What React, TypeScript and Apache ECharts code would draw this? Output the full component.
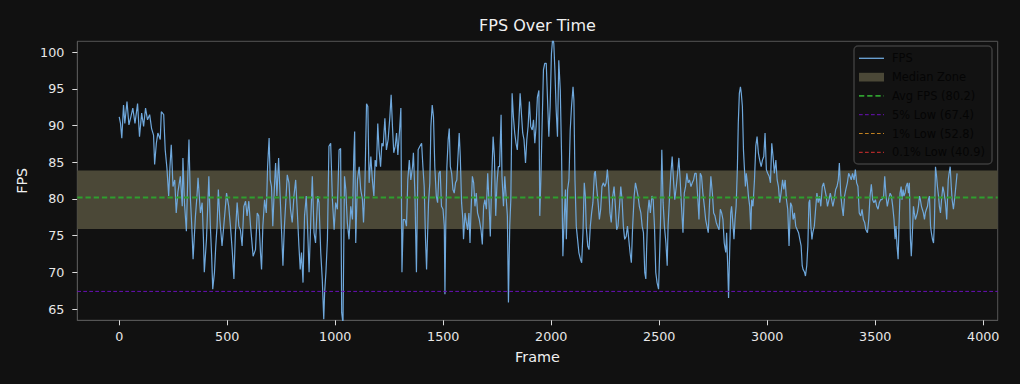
import React, { useEffect, useRef } from "react";
import * as echarts from "echarts";

// ---- FPS samples, [frame, fps] ----
const FPS_SEG_A: [number, number][] = [
  [0,91.2],[6,90.3],[12,88.3],[20,92.8],[26,90.3],[36,93.3],[45,90.1],[54,91.2],[63,92.4],[73,90.3],
  [85,93.0],[94,88.5],[104,91.7],[113,89.9],[122,92.4],[131,90.8],[141,91.5],[150,89.6],[159,88.7],[164,84.7],
  [172,87.6],[179,89.0],[190,88.1],[195,91.9],[206,91.5],[213,86.7],[221,84.2],[229,80.4],[235,84.4],[241,87.4],
  [249,81.7],[257,82.6],[264,78.1],[272,81.0],[283,83.1],[292,79.0],[295,85.6],[302,79.5],[311,75.6],[317,82.6],
  [323,88.1],[329,80.4],[336,76.3],[342,71.8],[353,77.7],[360,80.4],[365,82.9],[376,78.1],[384,79.5],[390,74.5],
  [394,70.0],[404,74.5],[415,83.1],[422,76.3],[428,72.2],[433,67.7],[441,70.0],[447,73.6],[453,76.3],[459,81.3],
  [466,77.2],[476,73.6],[484,76.3],[497,80.8],[507,79.0],[515,76.3],[523,73.1],[531,69.1],[538,75.4],[546,79.5],
  [554,76.3],[561,75.8],[569,73.6],[577,79.0],[585,79.7],[592,77.7],[600,79.7],[608,76.3],[620,72.2],
];
const FPS_SEG_B: [number, number][] = [
  [631,73.1],[639,78.1],[646,77.7],[654,72.7],[659,70.4],[665,76.3],[673,79.9],[681,78.1],[687,84.4],[694,88.3],
  [699,82.6],[705,81.7],[711,76.3],[718,81.3],[724,84.9],[730,80.4],[738,85.6],[745,80.4],[752,75.4],[758,70.9],
  [764,75.8],[770,79.0],[778,83.3],[786,82.2],[793,78.6],[801,76.8],[809,80.4],[817,82.6],[824,78.6],[832,73.6],
  [838,70.4],[844,72.7],[851,68.6],[858,77.7],[866,80.4],[872,76.3],[879,70.0],[886,76.3],[894,83.1],[902,75.4],
  [909,74.0],[919,80.4],[925,79.5],[933,72.7],[940,69.1],[947,63.6],[951,67.3],[957,70.0],[964,74.5],[971,87.2],
  [979,87.6],[987,79.9],[995,75.8],[1002,79.5],[1010,78.6],[1018,86.7],[1025,86.9],[1030,64.5],[1036,63.0],[1043,83.1],
  [1049,81.3],[1056,76.8],[1064,74.5],[1072,79.0],[1080,77.2],[1086,85.8],[1090,89.2],[1095,74.0],[1103,82.6],[1111,84.4],
  [1118,81.3],[1126,79.9],[1131,76.8],[1137,81.3],[1145,93.0],[1151,92.6],[1157,82.2],[1165,85.8],[1172,82.6],[1179,80.4],
  [1185,85.3],[1191,84.4],[1197,90.3],[1203,86.7],[1210,84.4],[1216,87.6],[1222,87.2],[1230,91.0],[1237,86.7],[1245,88.1],
  [1253,91.2],[1259,94.2],[1265,89.9],[1271,86.3],[1278,87.2],[1284,89.0],[1290,86.0],[1298,89.4],[1304,92.4],[1309,70.0],
  [1315,77.2],[1323,77.2],[1330,76.3],[1336,82.6],[1343,85.3],[1350,82.6],
];
const FPS_SEG_C: [number, number][] = [
  [1358,84.4],[1362,86.3],[1369,80.8],[1376,70.0],[1384,86.7],[1392,87.2],[1400,87.6],[1406,84.4],[1412,81.7],[1418,74.5],
  [1423,70.4],[1427,74.5],[1432,79.5],[1438,82.2],[1443,89.9],[1449,92.8],[1455,91.2],[1461,84.4],[1468,80.4],[1474,79.5],
  [1480,83.5],[1486,83.8],[1492,79.0],[1499,78.6],[1505,76.3],[1508,67.0],[1512,76.8],[1517,84.4],[1523,88.1],[1528,89.6],
  [1533,84.4],[1539,83.5],[1545,81.3],[1551,80.8],[1557,82.2],[1563,82.6],[1570,86.7],[1574,89.0],[1579,85.8],[1585,79.5],
  [1591,77.2],[1594,74.5],[1601,78.1],[1607,76.8],[1613,75.8],[1619,78.1],[1624,74.0],[1628,77.7],[1635,83.1],[1641,82.2],
  [1647,79.0],[1653,80.8],[1659,78.1],[1667,77.2],[1675,75.8],[1681,73.8],[1687,79.0],[1693,79.9],[1700,78.6],[1706,83.5],
  [1712,79.5],[1718,74.9],[1724,82.2],[1731,88.5],[1737,85.8],[1743,77.7],[1749,82.2],[1755,84.4],[1761,84.4],[1768,91.5],
  [1772,83.1],[1779,79.0],[1785,83.1],[1791,80.4],[1797,77.7],[1802,65.9],[1808,76.3],[1813,79.9],[1819,94.4],[1825,91.2],
  [1831,89.0],[1837,87.6],[1843,86.7],[1850,90.3],[1856,94.4],[1862,91.7],[1868,89.0],[1874,88.1],[1881,84.9],[1887,88.1],
  [1893,89.9],[1899,93.3],[1905,89.9],[1912,89.4],[1918,90.8],[1924,87.6],[1930,89.9],[1936,93.9],[1943,94.8],[1947,77.7],
  [1952,82.6],[1958,90.3],[1964,97.6],[1970,98.5],[1977,98.5],[1983,93.5],[1989,88.5],[1995,92.6],[2001,99.8],[2007,102.0],
  [2012,101.2],[2017,97.6],[2023,92.1],[2029,88.5],[2035,98.9],[2042,94.8],[2048,85.8],[2054,72.2],[2060,77.2],[2066,81.3],
];
const FPS_SEG_D: [number, number][] = [
  [2070,74.5],[2076,81.3],[2082,82.6],[2088,89.4],[2094,92.6],[2101,95.3],[2105,93.5],[2110,82.6],[2116,76.3],[2122,74.5],
  [2128,72.7],[2135,71.8],[2141,71.3],[2147,75.4],[2153,82.2],[2158,80.4],[2162,76.3],[2169,73.6],[2175,73.1],[2181,76.3],
  [2187,78.1],[2193,79.5],[2200,83.5],[2204,83.8],[2210,81.7],[2217,79.5],[2223,77.2],[2229,78.6],[2235,81.7],[2241,82.2],
  [2248,81.7],[2254,82.2],[2260,84.0],[2266,81.7],[2272,78.1],[2278,76.8],[2285,80.4],[2291,81.7],[2297,79.0],[2303,75.8],
  [2309,76.3],[2316,79.0],[2322,81.7],[2328,79.9],[2334,76.3],[2340,74.5],[2347,74.9],[2353,76.3],[2359,74.5],[2365,72.7],
  [2371,71.3],[2377,76.3],[2384,80.4],[2390,82.2],[2396,81.3],[2402,80.4],[2408,79.0],[2415,78.1],[2421,76.3],[2427,75.4],
  [2433,70.0],[2438,69.1],[2442,73.6],[2447,78.1],[2453,79.9],[2459,78.1],[2466,80.4],[2472,79.9],[2478,76.3],[2484,70.0],
  [2490,68.6],[2497,67.7],[2503,73.6],[2507,78.1],[2512,86.7],[2518,79.5],[2524,76.3],[2531,74.0],[2537,70.9],[2541,76.3],
  [2548,80.4],[2554,83.5],[2560,85.8],[2566,82.6],[2572,79.9],[2579,81.7],[2585,83.5],[2591,85.6],[2597,82.6],[2603,79.0],
  [2610,75.4],[2616,80.8],[2622,81.7],[2628,83.5],[2634,82.2],[2640,82.6],[2647,81.7],[2653,82.2],[2659,82.6],[2665,83.5],
  [2671,83.5],[2678,80.4],[2684,77.2],[2690,83.5],[2696,83.1],[2702,80.8],[2709,79.0],[2715,77.2],[2721,76.3],[2727,75.4],
  [2733,79.5],[2739,83.1],[2746,80.8],[2752,78.1],[2758,77.7],[2764,76.8],[2770,76.3],[2777,75.8],[2783,78.6],
];
const FPS_SEG_E: [number, number][] = [
  [2789,78.1],[2795,77.2],[2801,74.0],[2808,72.7],[2812,75.4],[2817,70.9],[2821,66.5],[2826,72.7],[2831,78.1],[2835,79.0],
  [2842,76.3],[2846,74.5],[2851,77.2],[2856,79.0],[2862,84.4],[2866,90.3],[2871,94.4],[2876,95.3],[2880,94.4],[2885,92.6],
  [2890,86.7],[2894,84.4],[2899,81.7],[2903,83.5],[2908,82.2],[2913,80.4],[2919,79.0],[2924,75.8],[2928,79.9],[2934,79.0],
  [2941,82.6],[2947,87.2],[2953,88.5],[2959,86.3],[2965,85.3],[2972,84.4],[2978,85.3],[2984,85.8],[2990,89.0],[2996,84.0],
  [3002,83.5],[3009,83.1],[3015,82.2],[3021,87.6],[3027,85.8],[3033,83.5],[3040,85.3],[3046,82.6],[3052,81.7],[3058,79.5],
  [3064,80.8],[3071,82.6],[3077,81.3],[3083,82.6],[3089,79.9],[3095,78.6],[3101,73.6],[3108,79.5],[3114,79.0],[3120,77.2],
  [3126,78.1],[3132,76.3],[3139,75.8],[3145,75.4],[3151,74.5],[3157,73.6],[3162,70.9],[3166,70.4],[3173,70.0],[3177,69.5],
  [3183,70.9],[3188,73.6],[3193,79.5],[3197,79.9],[3202,76.3],[3207,74.5],[3211,75.4],[3218,76.3],[3224,78.6],[3230,80.8],
  [3236,79.5],[3242,80.4],[3248,79.0],[3255,81.7],[3261,82.2],[3267,81.3],[3273,80.4],[3279,79.0],[3286,79.9],[3292,80.8],
  [3298,79.9],[3304,79.0],[3310,79.9],[3317,81.3],[3323,81.7],[3329,82.6],[3334,84.9],[3340,80.8],[3346,79.0],[3352,77.7],
  [3358,80.4],[3364,81.3],[3371,82.2],[3377,83.5],[3383,83.1],[3389,82.6],[3395,83.5],[3402,82.6],[3408,84.0],[3414,82.2],
  [3420,81.7],[3426,78.1],[3433,77.7],[3439,78.6],[3445,77.2],[3451,76.8],[3457,75.8],[3464,75.4],[3470,77.2],[3476,80.4],
  [3482,82.0],[3488,79.9],[3494,79.5],[3501,79.9],[3507,79.0],[3513,78.6],[3519,79.5],[3525,79.9],
];
const FPS_SEG_F: [number, number][] = [
  [3531,79.9],[3539,80.4],[3544,83.1],[3550,80.4],[3556,79.0],[3562,79.9],[3569,80.8],[3575,80.4],[3581,79.0],[3587,77.2],
  [3592,74.5],[3596,76.3],[3601,73.6],[3606,71.8],[3610,76.3],[3615,80.8],[3620,81.7],[3624,79.9],[3629,81.3],[3633,80.4],
  [3638,80.8],[3643,81.7],[3649,82.2],[3654,80.8],[3658,82.2],[3663,74.5],[3667,72.2],[3672,75.4],[3677,79.0],[3681,78.1],
  [3686,77.2],[3691,77.7],[3695,78.1],[3700,79.0],[3705,80.4],[3709,79.9],[3714,79.0],[3718,78.6],[3723,78.1],[3728,77.2],
  [3732,78.1],[3737,78.6],[3742,79.0],[3746,79.9],[3751,80.4],[3756,76.3],[3760,75.4],[3765,74.5],[3770,74.0],[3774,76.8],
  [3779,84.4],[3784,83.1],[3788,81.7],[3793,80.4],[3797,79.0],[3802,78.1],[3807,79.9],[3813,81.7],[3819,80.8],[3825,79.5],
  [3831,77.2],[3838,82.6],[3842,83.5],[3847,84.4],[3852,81.7],[3856,79.9],[3862,78.6],[3869,80.4],[3879,83.5],
];

// ---- reference levels ----
const AVG_FPS = 80.2;
const LOW_5 = 67.4;
const LOW_1 = 52.8;
const LOW_01 = 40.9;
const MEDIAN_ZONE = [75.9, 83.9];

// ---- axes ----
const X_TICKS = [0, 500, 1000, 1500, 2000, 2500, 3000, 3500, 4000];
const Y_TICKS = [65, 70, 75, 80, 85, 90, 95, 100];
const X_RANGE = [-194, 4067];
const Y_RANGE = [63.46, 101.5];

const FONT = "DejaVu Sans";
const C_FPS = "#6fa8dc";
const C_ZONE = "#4b4837";
const C_AVG = "#2f9e2f";
const C_LOW5 = "#6a10b8";
const C_LOW1 = "#c08020";
const C_LOW01 = "#d83030";

export default function App() {
  const ref = useRef<HTMLDivElement>(null);

  useEffect(() => {
    const chart = echarts.init(ref.current!, null, { renderer: "svg" });
    const fpsData = [
      ...FPS_SEG_A, ...FPS_SEG_B, ...FPS_SEG_C,
      ...FPS_SEG_D, ...FPS_SEG_E, ...FPS_SEG_F,
    ];
    const hline = (v: number) => [[X_RANGE[0], v], [X_RANGE[1], v]];

    const legendItems = [
      { label: "FPS", kind: "line", color: C_FPS, width: 1.3, dash: null as number[] | null },
      { label: "Median Zone", kind: "rect", color: C_ZONE, width: 0, dash: null },
      { label: `Avg FPS (${AVG_FPS})`, kind: "line", color: C_AVG, width: 1.8, dash: [5.3, 2.9] },
      { label: `5% Low (${LOW_5})`, kind: "line", color: C_LOW5, width: 1, dash: [3.7, 2.3] },
      { label: `1% Low (${LOW_1})`, kind: "line", color: C_LOW1, width: 1, dash: [3.7, 2.3] },
      { label: `0.1% Low (${LOW_01})`, kind: "line", color: C_LOW01, width: 1, dash: [3.7, 2.3] },
    ];
    const LX = 854, LY = 46, LW = 138, LH = 118, ROW0 = 58.3, ROW = 18.8;
    const legendChildren: any[] = [
      {
        type: "rect",
        shape: { x: LX, y: LY, width: LW, height: LH, r: 4 },
        style: { fill: "#121212", stroke: "#3c3c3c", lineWidth: 1.5 },
      },
    ];
    legendItems.forEach((it, i) => {
      const cy = ROW0 + i * ROW;
      if (it.kind === "rect") {
        legendChildren.push({
          type: "rect",
          shape: { x: 859, y: cy - 4.3, width: 25, height: 8.7 },
          style: { fill: it.color },
        });
      } else {
        legendChildren.push({
          type: "line",
          shape: { x1: 859, y1: cy, x2: 884, y2: cy },
          style: { stroke: it.color, lineWidth: it.width, lineDash: it.dash || undefined },
        });
      }
      legendChildren.push({
        type: "text",
        x: 892,
        y: cy,
        style: {
          text: it.label,
          fill: "#050505",
          fontSize: 11.4,
          fontFamily: FONT,
          verticalAlign: "middle",
          align: "left",
        },
      });
    });

    const axisCommon = {
      type: "value" as const,
      splitLine: { show: false },
      axisLine: { show: true, onZero: false, lineStyle: { color: "#555555", width: 1 } },
      axisTick: { show: true, length: 5, lineStyle: { color: "#dddddd", width: 1 } },
      nameLocation: "middle" as const,
      nameTextStyle: { color: "#f0f0f0", fontSize: 14.4, fontFamily: FONT },
    };

    chart.setOption({
      animation: false,
      backgroundColor: "#111111",
      textStyle: { fontFamily: FONT },
      title: {
        text: "FPS Over Time",
        left: 537.5,
        top: 17,
        padding: 0,
        textAlign: "center",
        textStyle: { color: "#f0f0f0", fontSize: 16, fontWeight: "normal", fontFamily: FONT },
      },
      grid: {
        left: 77.3,
        right: 22.3,
        top: 41.3,
        bottom: 63.7,
        show: true,
        backgroundColor: "#111111",
        borderColor: "#555555",
        borderWidth: 1,
      },
      xAxis: {
        ...axisCommon,
        min: X_RANGE[0],
        max: X_RANGE[1],
        name: "Frame",
        nameGap: 30,
        axisTick: { ...axisCommon.axisTick, customValues: X_TICKS },
        axisLabel: {
          customValues: X_TICKS,
          formatter: (v: number) => String(v),
          color: "#e8e8e8",
          fontSize: 12.7,
          fontFamily: FONT,
          margin: 10,
        },
      },
      yAxis: {
        ...axisCommon,
        min: Y_RANGE[0],
        max: Y_RANGE[1],
        name: "FPS",
        nameGap: 37,
        axisTick: { ...axisCommon.axisTick, customValues: Y_TICKS },
        axisLabel: {
          customValues: Y_TICKS,
          formatter: (v: number) => String(v),
          color: "#e8e8e8",
          fontSize: 12.7,
          fontFamily: FONT,
          margin: 13,
        },
      },
      series: [
        {
          name: "FPS",
          type: "line",
          data: fpsData,
          symbol: "none",
          silent: true,
          z: 2,
          lineStyle: { color: C_FPS, width: 1.2 },
          markArea: {
            silent: true,
            itemStyle: { color: C_ZONE, opacity: 1 },
            data: [[{ yAxis: MEDIAN_ZONE[0] }, { yAxis: MEDIAN_ZONE[1] }]],
          },
        },
        {
          name: "Avg FPS",
          type: "line",
          data: hline(AVG_FPS),
          symbol: "none",
          silent: true,
          z: 3,
          lineStyle: { color: C_AVG, width: 1.8, type: [5.3, 2.9] },
        },
        {
          name: "5% Low",
          type: "line",
          data: hline(LOW_5),
          symbol: "none",
          silent: true,
          z: 3,
          lineStyle: { color: C_LOW5, width: 1, type: [3.7, 2.3] },
        },
        {
          name: "1% Low",
          type: "line",
          data: hline(LOW_1),
          symbol: "none",
          silent: true,
          z: 3,
          lineStyle: { color: C_LOW1, width: 1, type: [3.7, 2.3] },
        },
        {
          name: "0.1% Low",
          type: "line",
          data: hline(LOW_01),
          symbol: "none",
          silent: true,
          z: 3,
          lineStyle: { color: C_LOW01, width: 1, type: [3.7, 2.3] },
        },
      ],
      graphic: [{ type: "group", z: 100, children: legendChildren }],
    });

    return () => chart.dispose();
  }, []);

  return (
    <div
      ref={ref}
      style={{ position: "fixed", left: 0, top: 0, width: 1020, height: 384 }}
    />
  );
}
